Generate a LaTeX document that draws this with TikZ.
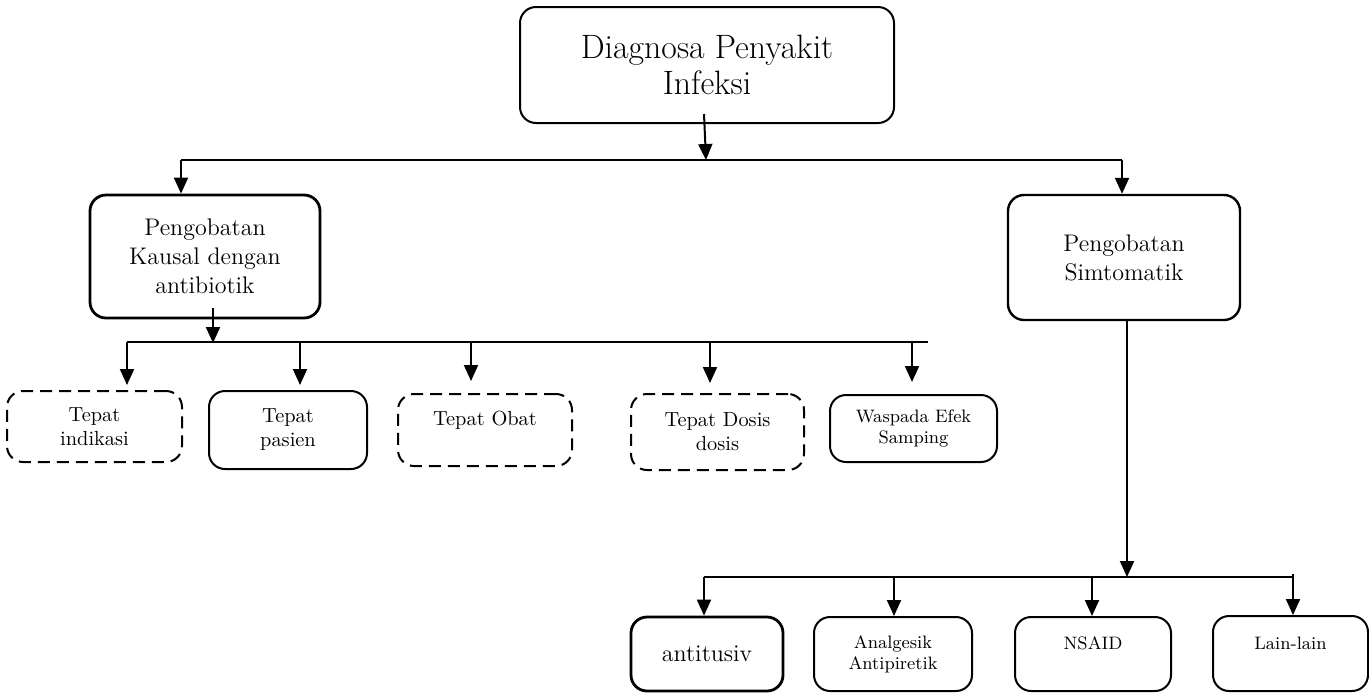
\documentclass[tikz,border=0pt]{standalone}
\usepackage{tikz}
\usetikzlibrary{positioning, arrows.meta}
\newcommand{\fntXL}{\fontsize{16.9}{18}\selectfont}
\newcommand{\fntL}{\fontsize{12}{14.5}\selectfont}
\newcommand{\fntM}{\fontsize{10.2}{12}\selectfont}
\newcommand{\fntS}{\fontsize{9}{10.5}\selectfont}

\begin{document}
\begin{tikzpicture}[
        x=0.5pt, y=-0.5pt,
        % kotak biasa
        box/.style={rectangle, draw, rounded corners=8pt, line width=1pt, align=center, inner sep=2pt},
        % kotak putus-putus
        dashbox/.style={box, dash pattern=on 6pt off 3.5pt},
        % panah
        arrow/.style={-{Triangle[width=7pt, length=8pt]}, line width=1pt},
        % garis cabang
        bar/.style={line width=0.8pt}
    ]
    \useasboundingbox (0,0) rectangle (1369,692);

    % kotak utama
    \node[box, minimum width=187pt, minimum height=58pt, font=\fntXL] (diag) at (707,65) {Diagnosa Penyakit\\Infeksi};
    \node[box, line width=1.4pt, minimum width=115pt, minimum height=61.5pt, font=\fntL] (kausal) at (205,256.5) {Pengobatan\\Kausal dengan\\antibiotik};
    \node[box, line width=1.2pt, minimum width=116pt, minimum height=62.5pt, font=\fntL] (simto) at (1124,257.5) {Pengobatan\\Simtomatik};

    % cabang kiri
    \node[dashbox, minimum width=87.5pt, minimum height=35.5pt, font=\fntM] (indikasi) at (94.5,426.5) {Tepat\\indikasi};
    \node[box, minimum width=79pt, minimum height=39pt, font=\fntM] (pasien) at (288,430) {Tepat\\pasien};
    \node[dashbox, minimum width=87pt, minimum height=36pt, font=\fntM] (obat) at (485,430) {Tepat Obat\\\mbox{}};
    \node[dashbox, minimum width=86.5pt, minimum height=38pt, font=\fntM] (dosis) at (717.5,432) {Tepat Dosis\\dosis};
    \node[box, minimum width=83.5pt, minimum height=33.5pt, font=\fntS] (waspada) at (913.5,428.5) {Waspada Efek\\Samping};

    % cabang kanan
    \node[box, line width=1.4pt, minimum width=76pt, minimum height=37pt, font=\fntL] (antitusiv) at (707,654) {antitusiv};
    \node[box, minimum width=79pt, minimum height=37pt, font=\fntS] (analgesik) at (893,654) {Analgesik\\Antipiretik};
    \node[box, minimum width=78pt, minimum height=37pt, font=\fntS] (nsaid) at (1093,654) {NSAID\\\mbox{}};
    \node[box, minimum width=77.5pt, minimum height=37.5pt, font=\fntS] (lain) at (1290.5,653.5) {Lain-lain\\\mbox{}};

    % titik-titik pada garis cabang
    \coordinate (busA_l) at (181,160);
    \coordinate (busA_m) at (706,160);
    \coordinate (busA_r) at (1122,160);
    \coordinate (busB_l) at (127,342);
    \coordinate (busB_m) at (213,343);
    \coordinate (busB_r) at (928,342);
    \coordinate (busC_l) at (704,577);
    \coordinate (busC_m) at (1127,577);
    \coordinate (busC_r) at (1293,577);

    % tingkat pertama
    \draw[bar] (busA_l) -- (busA_r);
    \draw[arrow] ([xshift=-1.5pt, yshift=5pt]diag.south) -- (busA_m);
    \draw[arrow] (busA_l) -- (busA_l |- kausal.north);
    \draw[arrow] (busA_r) -- (busA_r |- simto.north);

    % tingkat kedua (kiri)
    \draw[bar] (busB_l) -- (busB_r);
    \draw[arrow] ([xshift=4pt, yshift=5.5pt]kausal.south) -- (busB_m);
    \draw[arrow, shorten >=2.5pt] (busB_l) -- (busB_l |- indikasi.north);
    \draw[arrow, shorten >=2.5pt] (300,342) -- (300,342 |- pasien.north);
    \draw[arrow, shorten >=6pt] (471,342) -- (471,342 |- obat.north);
    \draw[arrow, shorten >=5pt] (710,342) -- (710,342 |- dosis.north);
    \draw[arrow, shorten >=6pt] (912,342) -- (912,342 |- waspada.north);

    % tingkat kedua (kanan)
    \draw[bar] (busC_l) -- (busC_r);
    \draw[arrow] ([xshift=1.5pt]simto.south) -- (busC_m);
    \draw[arrow] (busC_l) -- (busC_l |- antitusiv.north);
    \draw[arrow] (894,577) -- (894,577 |- analgesik.north);
    \draw[arrow] (1092,577) -- (1092,577 |- nsaid.north);
    \draw[arrow] ([yshift=1.5pt]busC_r) -- (busC_r |- lain.north);

\end{tikzpicture}
\end{document}
